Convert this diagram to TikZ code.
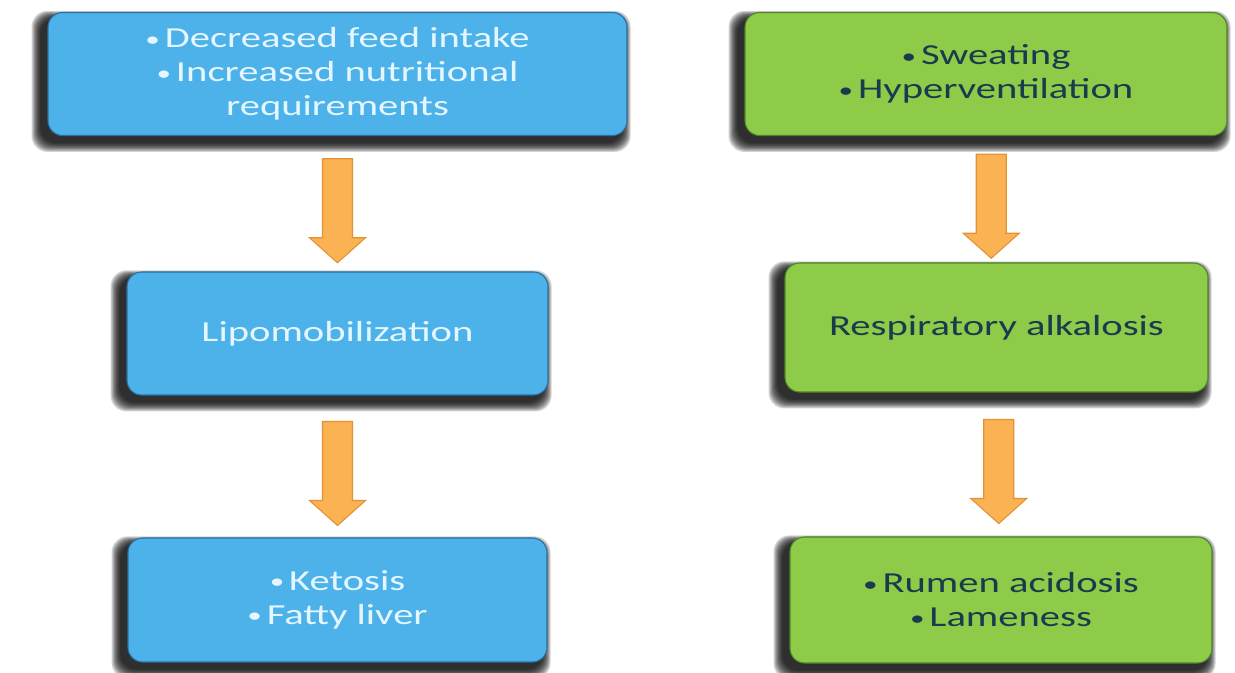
\documentclass[tikz,border=0pt]{standalone}
\usepackage{fontspec}
\setmainfont{Carlito}
\newfontfamily\boxfont[FakeStretch=1.4]{Carlito}
\usetikzlibrary{calc,backgrounds}

\definecolor{boxblue}{RGB}{77,178,234}
\definecolor{blueedge}{RGB}{40,110,160}
\definecolor{boxgreen}{RGB}{141,203,72}
\definecolor{greenedge}{RGB}{80,130,40}
\definecolor{greentext}{RGB}{28,58,78}
\definecolor{bluetext}{RGB}{228,246,255}
\definecolor{arrowfill}{RGB}{250,178,82}
\definecolor{arrowedge}{RGB}{228,145,52}

% small list bullet
\newcommand\itembul{\raisebox{0.12ex}{\scalebox{0.72}{•}}\,}

\tikzset{
  card/.style 2 args={
    rounded corners=11pt, line width=0.8pt, inner sep=0pt,
    minimum width={#1*0.75pt}, minimum height={#2*0.75pt},
    align=center, font=\boxfont\fontsize{21.75}{25.5}\selectfont
  },
  bluecard/.style 2 args={card={#1}{#2}, fill=boxblue, draw=blueedge, text=bluetext},
  greencard/.style 2 args={card={#1}{#2}, fill=boxgreen, draw=greenedge, text=greentext},
  flowarrow/.style={fill=arrowfill, draw=arrowedge, line width=0.8pt, line join=miter},
  shadowlayer/.style={fill=black, fill opacity=0.17, rounded corners=12pt}
}

% thick block arrow centred in the gap between two stacked boxes
\newcommand\fatarrow[2]{%
  \coordinate (#1-#2-mid) at ($(#1.south)!0.5!(#2.north)$);
  \draw[flowarrow]
    ($(#1-#2-mid)+(-15,-45)$) -- ($(#1-#2-mid)+(15,-45)$) --
    ($(#1-#2-mid)+(15,34)$) -- ($(#1-#2-mid)+(28,34)$) --
    ($(#1-#2-mid)+(0,59)$) -- ($(#1-#2-mid)+(-28,34)$) --
    ($(#1-#2-mid)+(-15,34)$) -- cycle;
}

\begin{document}
\begin{tikzpicture}[x=0.75pt, y=-0.75pt]
  \useasboundingbox (0,0) rectangle (1235,672);

  % left column: nutritional pathway
  \node[bluecard={579}{123}] (intake) at (337.5,74)
    {\itembul Decreased feed intake\\\itembul Increased nutritional\\requirements};
  \node[bluecard={421}{123}] (lipo) at (337.5,333.5) {Lipomobilization};
  \node[bluecard={419}{124}] (ketosis) at (337.5,600)
    {\itembul Ketosis\\\itembul Fatty liver};

  % right column: respiratory pathway
  \node[greencard={482}{123}] (sweat) at (986,74)
    {\itembul Sweating\\\itembul Hyperventilation};
  \node[greencard={423}{129}] (alkal) at (996.5,327.5) {Respiratory alkalosis};
  \node[greencard={422}{126}] (rumen) at (1001,600)
    {\itembul Rumen acidosis\\\itembul Lameness};

  % soft dark drop shadows, offset down and to the left
  \begin{scope}[on background layer]
    \fill[white] (0,0) rectangle (1235,672);
    \foreach \n in {intake,lipo,ketosis,sweat,alkal,rumen}{
      \foreach \i in {1,...,9}{
        \path[shadowlayer]
          ($(\n.south west)+(-6-\i*1.1, 6+\i*1.1)$) rectangle
          ($(\n.north east)+(-6+\i*1.0, 7-\i*0.9)$);
      }
    }
  \end{scope}

  \fatarrow{intake}{lipo}
  \fatarrow{lipo}{ketosis}
  \fatarrow{sweat}{alkal}
  \fatarrow{alkal}{rumen}
\end{tikzpicture}
\end{document}
